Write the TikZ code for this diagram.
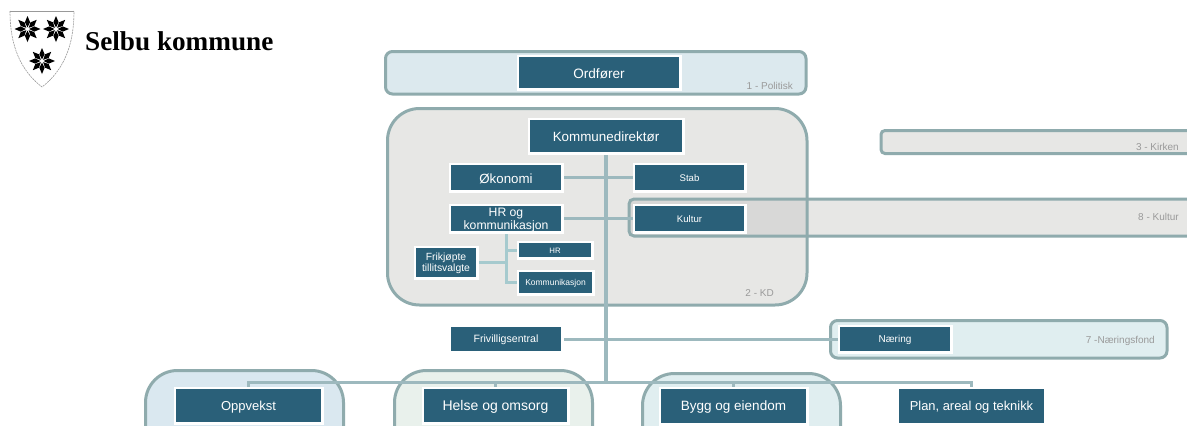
\documentclass[tikz,border=0pt]{standalone}
\usepackage{fontspec}
\setmainfont{Liberation Sans}
\newfontfamily\serifb{Liberation Serif}
\pgfdeclarelayer{panels}
\pgfdeclarelayer{wires}
\pgfsetlayers{panels,wires,main}
\definecolor{boxc}{HTML}{2A6079}
\definecolor{framec}{HTML}{8FABAD}
\definecolor{wirec}{HTML}{9DB9BE}
\definecolor{subwire}{HTML}{A6CACE}
\definecolor{graypanel}{HTML}{E7E7E5}
\definecolor{overlap}{HTML}{D8D8D7}
\definecolor{bluepanel}{HTML}{DCE9EE}
\definecolor{nearpanel}{HTML}{E0EEF0}
\definecolor{greenpanel}{HTML}{E9F1EC}
\definecolor{oppv}{HTML}{DAE8F0}
\definecolor{labelc}{HTML}{9A9A9A}
\tikzset{
  unitbox/.style={draw=white,line width=2.5pt,fill=boxc,text=white,align=center,inner sep=0pt,outer sep=0pt},
  panel/.style={draw=framec,line width=3pt},
  conn/.style={draw=wirec,line width=3pt},
  thick conn/.style={draw=wirec,line width=4pt},
  sub conn/.style={draw=subwire,line width=3pt},
  tag/.style={text=labelc,anchor=east,inner sep=0pt,font=\fontsize{10}{11}\selectfont},
  shieldline/.style={draw=black!40,line width=0.6pt},
}
% name, x0, y0, x1, y1, font size, text
\newcommand{\unit}[7]{%
  \node[unitbox,minimum width={#4-#2+2.5},minimum height={#5-#3+2.5},
        font=\fontsize{#6}{#6}\selectfont] (#1) at ({(#2+#4)/2},{(#3+#5)/2}) {\rule{0pt}{0.9em}#7};}
\newcommand{\flower}[2]{%
  \foreach \a in {0,45,...,315}{%
    \fill[black,shift={(#1,#2)},rotate=\a] (1.6,0) -- (6.8,2.6) -- (13,0) -- (6.8,-2.6) -- cycle;}}
\begin{document}
\begin{tikzpicture}[x=1pt,y=-1pt]
\useasboundingbox (0,0) rectangle (1187,426);

% Header
\draw[shieldline] (10,11) -- (74,11);
\draw[shieldline,dash pattern=on 2pt off 0.8pt] (10,11) .. controls (10,45) and (20,70) .. (42,87) .. controls (64,70) and (74,45) .. (74,11);
\flower{27.5}{29}
\flower{56}{29}
\flower{42}{61}
\node[anchor=west,inner sep=0pt,font=\serifb\bfseries\fontsize{27.2}{30}\selectfont] (title) at (85,41) {Selbu kommune};

\begin{pgfonlayer}{panels}
  \fill[white] (0,0) rectangle (1187,426);
  % KD
  \path[fill=graypanel] (387.5,108.5) [rounded corners=32pt] -- (807,108.5) -- (807,305) -- (387.5,305) -- cycle;
  % Kultur band
  \path[fill=graypanel] (808,199) -- (1187,199) -- (1187,236) -- (808,236) -- cycle;
  \path[fill=overlap,rounded corners=5pt] (807,199) -- (629,199) -- (629,236) -- (807,236);
  \draw[panel,rounded corners=32pt] (387.5,108.5) -- (807,108.5) -- (807,305) -- (387.5,305) -- cycle;
  \draw[panel,rounded corners=5pt] (1187,199) -- (629,199) -- (629,236) -- (1187,236);
  % Politisk
  \draw[panel,fill=bluepanel,rounded corners=7pt] (385.5,51.5) rectangle (806,94);
  % Kirken
  \path[panel,fill=graypanel,rounded corners=4pt] (1187,130.5) -- (881,130.5) -- (881,153.5) -- (1187,153.5);
  % Naering
  \draw[panel,fill=nearpanel,rounded corners=7pt] (830.5,320.5) rectangle (1167,358);
  % Lower panels
  \path[panel,fill=oppv,rounded corners=32pt] (145.5,426) -- (145.5,370.5) -- (343.5,370.5) -- (343.5,426);
  \path[panel,fill=greenpanel,rounded corners=32pt] (394.5,426) -- (394.5,370.5) -- (592.5,370.5) -- (592.5,426);
  \path[panel,fill=nearpanel,rounded corners=32pt] (642.5,426) -- (642.5,373.5) -- (840.5,373.5) -- (840.5,426);
\end{pgfonlayer}

% Units
\unit{ordforer}{519}{57}{679}{88}{13.6}{Ordfører}
\unit{direktor}{530}{120}{682}{152}{13.4}{Kommunedirektør}
\unit{okonomi}{451}{165}{561}{190}{13.3}{Økonomi}
\unit{stab}{635}{165}{744}{190}{9.6}{Stab}
\unit{hrkomm}{451}{206}{561}{231}{12.2}{HR og\\[1pt]kommunikasjon}
\unit{kultur}{635}{206}{744}{231}{9.6}{Kultur}
\unit{hrsub}{519}{243}{591}{257}{7.8}{HR}
\unit{kommsub}{519}{272}{592}{293}{8.5}{Kommunikasjon}
\unit{frikjopt}{416}{248}{476}{277}{10.4}{Frikjøpte\\tillitsvalgte}
\unit{frivillig}{451}{327}{561}{351}{10.6}{Frivilligsentral}
\unit{naering}{840}{327}{950}{351}{10}{Næring}
\unit{oppvekst}{176}{389}{321}{422}{13}{Oppvekst}
\unit{helse}{424}{389}{567}{422}{14}{Helse og omsorg}
\unit{bygg}{661}{389}{806}{423}{13.5}{Bygg og eiendom}
\unit{plan}{899}{389}{1044}{423}{12.9}{Plan, areal og teknikk}

% Panel labels
\node[tag] (t1) at (793,86) {1 - Politisk};
\node[tag] (t2) at (774,293) {2 - KD};
\node[tag] (t3) at (1179,147) {3 - Kirken};
\node[tag] (t8) at (1179,217) {8 - Kultur};
\node[tag] (t7) at (1155,341) {7 -Næringsfond};

\coordinate (bus) at (606,382);

\begin{pgfonlayer}{wires}
  \draw[thick conn] (direktor.south) -- (bus);
  \draw[conn] (okonomi.east) -- (stab.west);
  \draw[conn] (hrkomm.east) -- (kultur.west);
  \draw[conn] (frivillig.east) -- (naering.west);
  \draw[conn] (oppvekst.north) |- (bus);
  \draw[conn] (plan.north) |- (bus);
  \draw[conn] (helse.north) |- (bus);
  \draw[conn] (bygg.north) |- (bus);
  \draw[sub conn] (hrkomm.south) |- (hrsub.west);
  \draw[sub conn] (hrkomm.south) |- (kommsub.west);
  \draw[sub conn] (frikjopt.east) -- (frikjopt.east -| hrkomm.south);
\end{pgfonlayer}
\end{tikzpicture}
\end{document}
